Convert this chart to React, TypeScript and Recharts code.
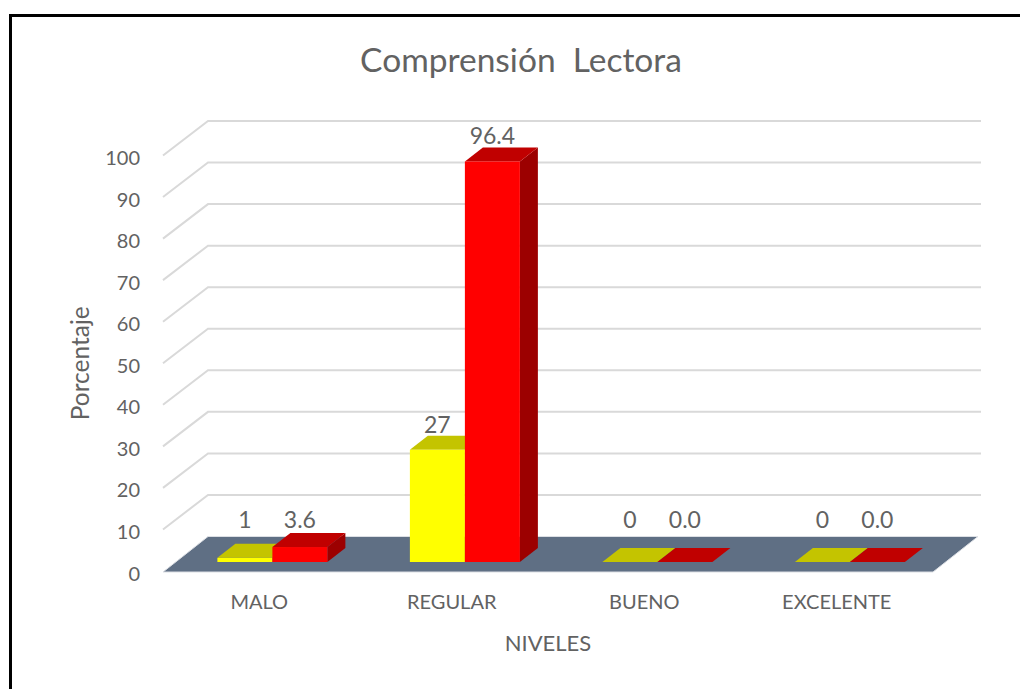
import { BarChart, Bar, XAxis, YAxis, CartesianGrid, LabelList } from "recharts";

const NIVELES = ["MALO", "REGULAR", "BUENO", "EXCELENTE"];
const YELLOW_VALUES = [1, 27, 0, 0];
const RED_VALUES = [3.6, 96.4, 0, 0];
const Y_TICKS = [0, 10, 20, 30, 40, 50, 60, 70, 80, 90, 100];

const data = NIVELES.map((nivel, i) => ({
  nivel,
  yellow: YELLOW_VALUES[i],
  red: RED_VALUES[i],
}));

const FONT = "Lato, sans-serif";
const TEXT = "#626262";
const GRID = "#d9d9d9";

// fake 3D: the wall sits WALL_* behind the front plane, bars sit BAR_* behind it
const WALL_DX = 45;
const WALL_DY = -34.5;
const BAR_DX = 13;
const BAR_DY = -9;
const BAR_DEPTH_X = 18;
const BAR_DEPTH_Y = -14;
const PLOT_LEFT = 163;
const PLOT_RIGHT = 933;
const PLOT_BOTTOM = 571;

// one horizontal grid line: side wall + back wall, the zero line becomes the floor
function WallLine({ y1 }: any) {
  const y = y1;
  const backY = y + WALL_DY;
  if (y >= PLOT_BOTTOM - 0.5) {
    return (
      <polygon
        points={`${PLOT_LEFT},${y + 1} ${PLOT_LEFT + WALL_DX},${backY} ${PLOT_RIGHT + WALL_DX},${backY} ${PLOT_RIGHT},${y + 1}`}
        fill="#5f6f84"
        stroke="#dcdfe4"
        strokeWidth={1}
      />
    );
  }
  return (
    <polyline
      points={`${PLOT_LEFT},${y} ${PLOT_LEFT + WALL_DX},${backY} ${PLOT_RIGHT + WALL_DX + 3},${backY}`}
      fill="none"
      stroke={GRID}
      strokeWidth={2}
    />
  );
}

function ValueTick({ x, y, payload }: any) {
  return (
    <text x={x - 17} y={y + 1.5} textAnchor="end" dominantBaseline="central" fill={TEXT} fontSize={20} fontFamily={FONT}>
      {payload.value}
    </text>
  );
}

function CategoryTick({ x, y, payload }: any) {
  return (
    <text x={x} y={y + 22} textAnchor="middle" dominantBaseline="central" fill={TEXT} fontSize={20} fontFamily={FONT}>
      {payload.value}
    </text>
  );
}

function Box3D({ x, y, width, height, front, top, side }: any) {
  const left = x + BAR_DX;
  const right = left + width;
  const topY = y + BAR_DY;
  const baseY = topY + height;
  const dx = BAR_DEPTH_X;
  const dy = BAR_DEPTH_Y;
  return (
    <g>
      <polygon
        points={`${right},${topY} ${right + dx},${topY + dy} ${right + dx},${baseY + dy} ${right},${baseY}`}
        fill={side}
      />
      <polygon
        points={`${left},${topY} ${left + dx},${topY + dy} ${right + dx},${topY + dy} ${right},${topY}`}
        fill={top}
      />
      {height > 0 && <rect x={left} y={topY} width={width} height={height} fill={front} />}
    </g>
  );
}

function barLabel(format: (v: number) => string) {
  return ({ x, y, width, value }: any) => (
    <text
      x={x + BAR_DX + width / 2}
      y={Math.min(519, y + BAR_DY - 26)}
      textAnchor="middle"
      dominantBaseline="central"
      fill={TEXT}
      fontSize={23}
      fontFamily={FONT}
    >
      {format(Number(value))}
    </text>
  );
}

export default function App() {
  return (
    <div style={{ position: "absolute", left: 0, top: 0, width: 1020, height: 689, overflow: "hidden", background: "#fff" }}>
      <div style={{ position: "absolute", left: 9, top: 14, width: 1100, height: 800, borderLeft: "3px solid #000", borderTop: "3px solid #000" }} />
      <div style={{ position: "absolute", left: 0, top: 38, width: 1042, textAlign: "center", fontFamily: FONT, fontSize: 33.5, lineHeight: "42px", color: TEXT, whiteSpace: "pre" }}>
        Comprensión  Lectora
      </div>
      <div style={{ position: "absolute", left: 0, top: 0 }}>
        <BarChart
          width={1020}
          height={689}
          data={data}
          margin={{ top: 155.5, right: 87, bottom: 38, left: 105 }}
          barCategoryGap="21.5%"
          barGap={0}
        >
          <CartesianGrid vertical={false} horizontal={<WallLine />} />
          <YAxis
            type="number"
            domain={[0, 100]}
            ticks={Y_TICKS}
            interval={0}
            width={58}
            axisLine={false}
            tickLine={false}
            tickMargin={0}
            tick={<ValueTick />}
            label={{ value: "Porcentaje", angle: -90, position: "center", dx: -54, fill: TEXT, fontSize: 24.5, fontFamily: FONT }}
          />
          <XAxis
            dataKey="nivel"
            axisLine={false}
            tickLine={false}
            interval={0}
            tick={<CategoryTick />}
            height={80}
            label={{ value: "NIVELES", position: "center", dy: 32, fill: TEXT, fontSize: 22, fontFamily: FONT }}
          />
          <Bar
            dataKey="yellow"
            isAnimationActive={false}
            shape={(p: any) => <Box3D {...p} front="#ffff00" top="#c4c400" side="#9c9c00" />}
          >
            <LabelList dataKey="yellow" content={barLabel((v) => String(v))} />
          </Bar>
          <Bar
            dataKey="red"
            isAnimationActive={false}
            shape={(p: any) => <Box3D {...p} front="#ff0000" top="#c00000" side="#9c0000" />}
          >
            <LabelList dataKey="red" content={barLabel((v) => v.toFixed(1))} />
          </Bar>
        </BarChart>
      </div>
    </div>
  );
}
